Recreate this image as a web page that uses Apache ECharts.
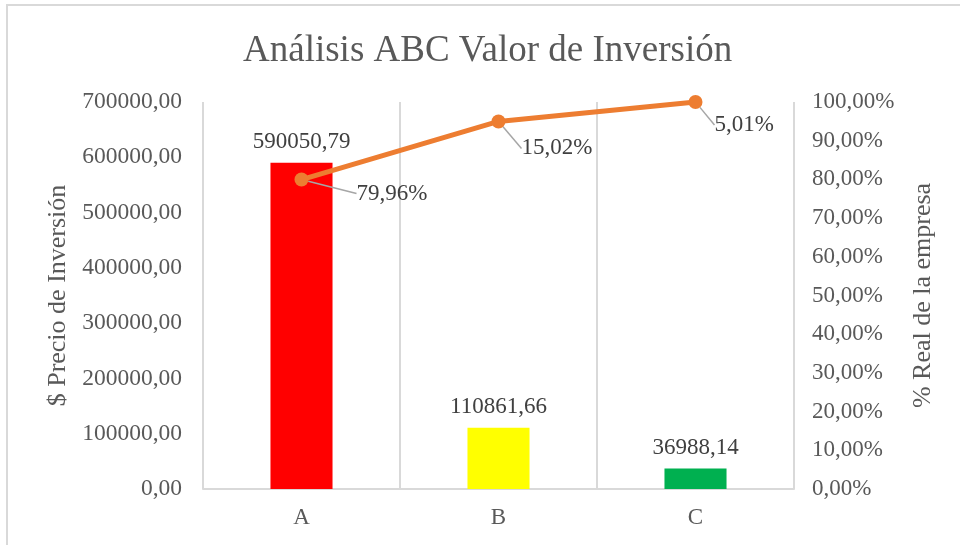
<!DOCTYPE html>
<html><head><meta charset="utf-8">
<script src="https://cdn.jsdelivr.net/npm/echarts@6/dist/echarts.min.js"></script>
<style>html,body{margin:0;padding:0;background:#fff}#c{width:960px;height:545px}</style>
</head><body><div id="c"></div>
<script>
var categories = ['A', 'B', 'C'];
var investmentValues = [590050.79, 110861.66, 36988.14];
var barColors = ['#FF0000', '#FFFF00', '#00B050'];
var cumulativePct = [0.7996, 0.9498, 1.0000];
var sharePctLabels = ['79,96%', '15,02%', '5,01%'];
var labelOffsets = [[43, 14], [11, 27], [7, 23]];

var FONT = '"Liberation Serif", "Times New Roman", serif';
var chart = echarts.init(document.getElementById('c'), null, {renderer: 'canvas'});
function fmt(v, d) { return v.toFixed(d).replace('.', ','); }

chart.setOption({
  animation: false,
  backgroundColor: '#fff',
  textStyle: {fontFamily: FONT},
  graphic: [{type: 'rect', shape: {x: 7, y: 5, width: 1000, height: 600},
    style: {fill: 'none', stroke: '#d9d9d9', lineWidth: 2}, silent: true}],
  title: {text: 'Análisis ABC Valor de Inversión', left: 238, top: 28,
    textStyle: {fontFamily: FONT, fontSize: 37, fontWeight: 'normal', color: '#595959'}},
  grid: {left: 203, right: 166, top: 102, bottom: 56, containLabel: false},
  xAxis: {type: 'category', data: categories, boundaryGap: true,
    axisLine: {lineStyle: {color: '#d9d9d9', width: 2}},
    axisTick: {show: false},
    splitLine: {show: true, lineStyle: {color: '#d9d9d9', width: 2}},
    axisLabel: {color: '#595959', fontFamily: FONT, fontSize: 23, margin: 17}},
  yAxis: [{type: 'value', min: 0, max: 700000, interval: 100000,
      name: '$ Precio de Inversión', nameLocation: 'middle', nameGap: 128, nameRotate: 90,
      nameTextStyle: {color: '#595959', fontFamily: FONT, fontSize: 26},
      axisLine: {show: false}, axisTick: {show: false}, splitLine: {show: false},
      axisLabel: {color: '#595959', fontFamily: FONT, fontSize: 23.5, margin: 21,
        formatter: function (v) { return fmt(v, 2); }}},
    {type: 'value', min: 0, max: 1, interval: 0.1, position: 'right',
      name: '% Real de la empresa', nameLocation: 'middle', nameGap: 116, nameRotate: 90,
      nameTextStyle: {color: '#595959', fontFamily: FONT, fontSize: 26},
      axisLine: {show: false}, axisTick: {show: false}, splitLine: {show: false},
      axisLabel: {color: '#595959', fontFamily: FONT, fontSize: 23, margin: 18,
        formatter: function (v) { return fmt(v * 100, 2) + '%'; }}}],
  series: [{
    type: 'bar', yAxisIndex: 0, barWidth: '31.5%',
    data: investmentValues.map(function (v, i) { return {value: v, itemStyle: {color: barColors[i]}}; }),
    label: {show: true, position: 'top', distance: 9, color: '#404040', fontFamily: FONT, fontSize: 23,
      formatter: function (p) { return fmt(p.value, 2); }}
  }, {
    type: 'line', yAxisIndex: 1, data: cumulativePct,
    lineStyle: {color: '#ED7D31', width: 5}, itemStyle: {color: '#ED7D31'},
    symbol: 'circle', symbolSize: 14,
    label: {show: true, position: 'right', distance: 5, color: '#404040', fontFamily: FONT, fontSize: 23,
      formatter: function (p) { return sharePctLabels[p.dataIndex]; }},
    labelLine: {show: true, lineStyle: {color: '#a6a6a6', width: 1.5}},
    labelLayout: function (p) { var o = labelOffsets[p.dataIndex]; return {dx: o[0], dy: o[1]}; }
  }]
});
</script></body></html>
